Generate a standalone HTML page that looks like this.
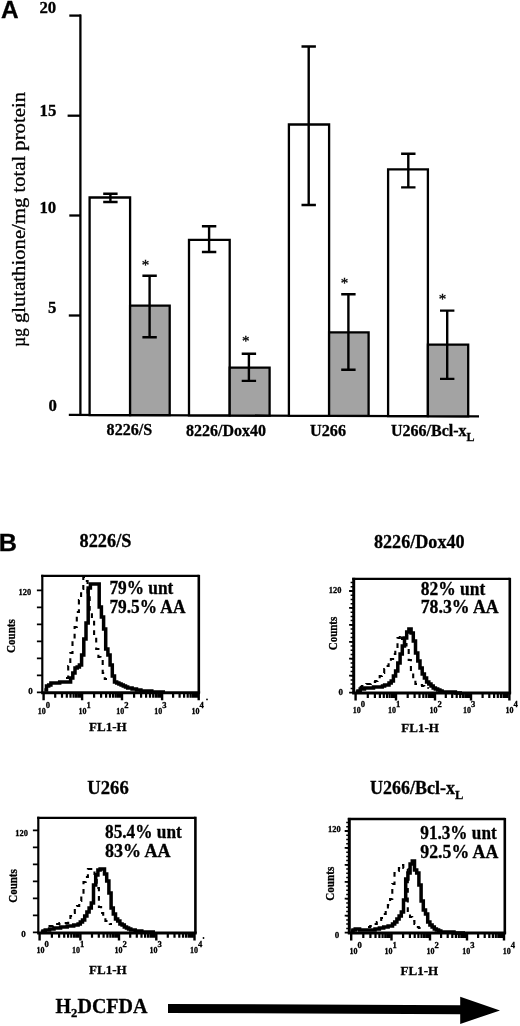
<!DOCTYPE html>
<html><head><meta charset="utf-8"><title>Figure</title>
<style>
html,body{margin:0;padding:0;background:#fff;}
svg{display:block;}
text{font-family:"Liberation Serif","DejaVu Serif",serif;font-weight:bold;fill:#000;stroke:#000;stroke-width:0.3px;}
.sans{font-family:"Liberation Sans","DejaVu Sans",sans-serif;font-weight:bold;}
.ln{stroke:#000;fill:none;}
</style></head><body>
<svg width="520" height="1026" viewBox="0 0 520 1026">
<rect width="520" height="1026" fill="#fff"/>

<text class="sans" x="0.9" y="18.1" font-size="24.4">A</text>
<g class="ln" stroke-width="2.3">
<path d="M80.4 14.5 V415.5"/>
<path d="M68.8 414.9 L479 416.3"/>
<path d="M69.3 15.6 H81"/>
<path d="M67.6 115.7 H81"/>
<path d="M69.3 215.5 H81"/>
<path d="M68.8 315.5 H81"/>
</g>
<text x="39.4" y="13.0" font-size="16.8">20</text>
<text x="39.5" y="116.0" font-size="16.8">15</text>
<text x="39.4" y="213.4" font-size="16.8">10</text>
<text x="48.1" y="313.4" font-size="16.8">5</text>
<text x="48.5" y="410.5" font-size="16.8">0</text>
<text transform="translate(24.6 346.7) rotate(-90)" font-size="18" style="font-weight:normal" stroke-width="0.4"><tspan x="0" textLength="18.4" lengthAdjust="spacingAndGlyphs">µg</tspan> <tspan x="23.7" textLength="231" lengthAdjust="spacingAndGlyphs">glutathione/mg total protein</tspan></text>
<path d="M89.6 415.0 V197.5 H130.1 V415.1 Z" fill="#fff" stroke="#000" stroke-width="2.3"/>
<path d="M130.1 415.1 V305.7 H169.7 V415.2 Z" fill="#a3a3a3" stroke="#000" stroke-width="2.3"/>
<path d="M189 415.3 V239.8 H229.7 V415.4 Z" fill="#fff" stroke="#000" stroke-width="2.3"/>
<path d="M229.7 415.4 V367.7 H269.6 V415.6 Z" fill="#a3a3a3" stroke="#000" stroke-width="2.3"/>
<path d="M288.9 415.6 V124.5 H329.1 V415.8 Z" fill="#fff" stroke="#000" stroke-width="2.3"/>
<path d="M329.1 415.8 V332.4 H368.6 V415.9 Z" fill="#a3a3a3" stroke="#000" stroke-width="2.3"/>
<path d="M388.1 416.0 V169.3 H427.9 V416.1 Z" fill="#fff" stroke="#000" stroke-width="2.3"/>
<path d="M427.9 416.1 V344.6 H468.2 V416.3 Z" fill="#a3a3a3" stroke="#000" stroke-width="2.3"/>
<path class="ln" stroke-width="2.4" d="M110.4 193.7 V202 M103.2 193.7 H117.60000000000001 M103.2 202 H117.60000000000001"/>
<path class="ln" stroke-width="2.4" d="M149.6 275.7 V337.3 M142.4 275.7 H156.79999999999998 M142.4 337.3 H156.79999999999998"/>
<path class="ln" stroke-width="2.4" d="M209.1 226.2 V252 M201.9 226.2 H216.29999999999998 M201.9 252 H216.29999999999998"/>
<path class="ln" stroke-width="2.4" d="M248.9 353.7 V380.9 M241.70000000000002 353.7 H256.1 M241.70000000000002 380.9 H256.1"/>
<path class="ln" stroke-width="2.4" d="M308.7 46.5 V205 M301.5 46.5 H315.9 M301.5 205 H315.9"/>
<path class="ln" stroke-width="2.4" d="M348.4 294.3 V369.8 M341.2 294.3 H355.59999999999997 M341.2 369.8 H355.59999999999997"/>
<path class="ln" stroke-width="2.4" d="M408.3 153.7 V187.4 M401.1 153.7 H415.5 M401.1 187.4 H415.5"/>
<path class="ln" stroke-width="2.4" d="M447.2 310.6 V378.9 M440.0 310.6 H454.4 M440.0 378.9 H454.4"/>
<text x="145.5" y="269.8" font-size="15" text-anchor="middle" style="font-weight:normal" stroke-width="0.5">*</text>
<text x="245.8" y="346.3" font-size="15" text-anchor="middle" style="font-weight:normal" stroke-width="0.5">*</text>
<text x="344.5" y="287.7" font-size="15" text-anchor="middle" style="font-weight:normal" stroke-width="0.5">*</text>
<text x="442.6" y="303.7" font-size="15" text-anchor="middle" style="font-weight:normal" stroke-width="0.5">*</text>
<text x="106.6" y="435.4" font-size="16" textLength="45.6" lengthAdjust="spacingAndGlyphs">8226/S</text>
<text x="186" y="435.7" font-size="16" textLength="80" lengthAdjust="spacingAndGlyphs">8226/Dox40</text>
<text x="310" y="436.2" font-size="16" textLength="36" lengthAdjust="spacingAndGlyphs">U266</text>
<text x="391" y="436.4" font-size="16">U266/Bcl-x<tspan font-size="12" dy="4.6">L</tspan></text>
<text class="sans" x="-1.2" y="550.6" font-size="24" textLength="18.2" lengthAdjust="spacingAndGlyphs">B</text>
<text x="79.6" y="547.4" font-size="18" textLength="51.8" lengthAdjust="spacingAndGlyphs">8226/S</text>
<text x="374" y="548.4" font-size="18" textLength="90.6" lengthAdjust="spacingAndGlyphs">8226/Dox40</text>
<text x="87.3" y="794" font-size="18" textLength="41.4" lengthAdjust="spacingAndGlyphs">U266</text>
<text x="370" y="794.2" font-size="18">U266/Bcl-x<tspan font-size="12.5" dy="5">L</tspan></text>
<path class="ln" stroke-width="2.3" d="M41.2 575.9 H198.8 "/>
<path class="ln" stroke-width="2.6" d="M198.8 574.8 V693.3"/>
<path class="ln" stroke-width="2.2" d="M42.3 574.8 V693.3"/>
<path class="ln" stroke-width="1.8" d="M36.9 590.4 H42.3 M36.9 607.4 H42.3 M36.9 624.4 H42.3 M36.9 641.3 H42.3 M36.9 658.3 H42.3 M36.9 675.3 H42.3 M36.9 692.3 H42.3 "/>
<path class="ln" stroke-width="2.2" d="M55.2 692.3 v5.4 M62.0 692.3 v5.4 M66.8 692.3 v5.4 M70.5 692.3 v5.4 M73.6 692.3 v5.4 M76.1 692.3 v5.4 M78.4 692.3 v5.4 M80.3 692.3 v5.4 M94.1 692.3 v5.4 M101.1 692.3 v5.4 M106.1 692.3 v5.4 M110.0 692.3 v5.4 M113.1 692.3 v5.4 M115.8 692.3 v5.4 M118.1 692.3 v5.4 M120.2 692.3 v5.4 M134.1 692.3 v5.4 M141.1 692.3 v5.4 M146.1 692.3 v5.4 M150.0 692.3 v5.4 M153.2 692.3 v5.4 M155.9 692.3 v5.4 M158.2 692.3 v5.4 M160.3 692.3 v5.4 M173.1 692.3 v5.4 M179.6 692.3 v5.4 M184.1 692.3 v5.4 M187.7 692.3 v5.4 M190.6 692.3 v5.4 M193.0 692.3 v5.4 M195.2 692.3 v5.4 M197.0 692.3 v5.4 "/>
<path class="ln" stroke-width="2.4" d="M43.6 692.3 v8 M82.1 692.3 v8 M122.0 692.3 v8 M162.1 692.3 v8 M198.7 692.3 v8 "/>
<path class="ln" stroke-width="3" d="M41.2 692.8 H200.1"/>
<text x="18.6" y="594.7" font-size="9" stroke-width="0.45" textLength="12.6" lengthAdjust="spacingAndGlyphs">120</text>
<text x="28.2" y="694.3" font-size="9" stroke-width="0.45">0</text>
<text transform="translate(15.3 653) rotate(-90)" font-size="11.8" textLength="33.8" lengthAdjust="spacingAndGlyphs">Counts</text>
<text font-size="8.8" stroke-width="0.45"><tspan x="37.7" y="713.5" textLength="8" lengthAdjust="spacingAndGlyphs">10</tspan><tspan x="45.7" y="707.6" font-size="8.6">0</tspan></text>
<text font-size="8.8" stroke-width="0.45"><tspan x="78.6" y="713.5" textLength="8" lengthAdjust="spacingAndGlyphs">10</tspan><tspan x="86.6" y="707.6" font-size="8.6">1</tspan></text>
<text font-size="8.8" stroke-width="0.45"><tspan x="116.2" y="713.5" textLength="8" lengthAdjust="spacingAndGlyphs">10</tspan><tspan x="124.2" y="707.6" font-size="8.6">2</tspan></text>
<text font-size="8.8" stroke-width="0.45"><tspan x="154.2" y="713.5" textLength="8" lengthAdjust="spacingAndGlyphs">10</tspan><tspan x="162.2" y="707.6" font-size="8.6">3</tspan></text>
<text font-size="8.8" stroke-width="0.45"><tspan x="191.4" y="713.5" textLength="8" lengthAdjust="spacingAndGlyphs">10</tspan><tspan x="199.4" y="707.6" font-size="8.6">4</tspan></text>
<text x="89" y="730.8" font-size="13" textLength="37.6" lengthAdjust="spacingAndGlyphs">FL1-H</text>
<text x="109.4" y="594" font-size="18" textLength="64" lengthAdjust="spacingAndGlyphs">79% unt</text>
<text x="109.4" y="612.8" font-size="18" textLength="76" lengthAdjust="spacingAndGlyphs">79.5% AA</text>
<polyline class="ln" stroke-width="2.1" stroke-dasharray="4.8 4.8" stroke-linejoin="miter" points="66.0,678.0 68.2,678.0 68.2,666.0 70.3,666.0 70.3,653.0 72.5,653.0 72.5,641.0 74.6,641.0 74.6,627.0 76.8,627.0 76.8,612.0 78.9,612.0 78.9,600.0 81.1,600.0 81.1,589.0 83.3,589.0 83.3,577.0 85.4,577.0 85.4,581.0 87.6,581.0 87.6,594.0 89.7,594.0 89.7,611.0 91.9,611.0 91.9,620.0 94.1,620.0 94.1,637.0 96.2,637.0 96.2,649.0 98.4,649.0 98.4,657.0 100.5,657.0 100.5,660.0 102.7,660.0 102.7,673.0 104.8,673.0 104.8,679.0 107.0,679.0"/>
<polyline class="ln" stroke-width="3.5" stroke-linejoin="miter" points="44.3,690.0 46.5,690.0 46.5,686.0 48.7,686.0 48.7,685.0 50.9,685.0 50.9,683.0 53.1,683.0 53.1,683.0 55.3,683.0 55.3,683.0 57.5,683.0 57.5,683.0 59.7,683.0 59.7,682.0 61.9,682.0 61.9,682.0 64.1,682.0 64.1,682.0 66.2,682.0 66.2,682.0 68.4,682.0 68.4,682.0 70.6,682.0 70.6,678.0 72.8,678.0 72.8,673.0 75.0,673.0 75.0,668.0 77.2,668.0 77.2,667.0 79.4,667.0 79.4,665.0 81.6,665.0 81.6,655.0 83.8,655.0 83.8,639.0 86.0,639.0 86.0,623.0 88.2,623.0 88.2,588.0 90.4,588.0 90.4,584.0 92.6,584.0 92.6,584.0 94.8,584.0 94.8,584.0 97.0,584.0 97.0,584.0 99.2,584.0 99.2,607.0 101.4,607.0 101.4,617.0 103.6,617.0 103.6,629.0 105.7,629.0 105.7,649.0 107.9,649.0 107.9,655.0 110.1,655.0 110.1,665.0 112.3,665.0 112.3,676.0 114.5,676.0 114.5,682.0 116.7,682.0 116.7,683.0 118.9,683.0 118.9,684.0 121.1,684.0 121.1,685.0 123.3,685.0 123.3,686.0 125.5,686.0 125.5,687.0 127.7,687.0 127.7,688.0 129.9,688.0 129.9,688.0 132.1,688.0 132.1,689.0 134.3,689.0 134.3,689.0 136.5,689.0 136.5,690.0 138.7,690.0 138.7,690.0 140.9,690.0 140.9,691.0 143.1,691.0 143.1,691.0 145.2,691.0 145.2,691.0 147.4,691.0 147.4,691.0 149.6,691.0 149.6,691.0 151.8,691.0 151.8,692.0 154.0,692.0 154.0,692.0 156.2,692.0 156.2,692.0 158.4,692.0 158.4,692.0 160.6,692.0 160.6,692.0 162.8,692.0 162.8,692.0 165.0,692.0"/>
<circle cx="207" cy="699.4" r="0.9" fill="#000"/>
<path class="ln" stroke-width="2.3" d="M352.2 578.9 H509.8 "/>
<path class="ln" stroke-width="2.6" d="M509.8 577.8 V693.6"/>
<path class="ln" stroke-width="3" d="M353.7 577.8 V693.6"/>
<path class="ln" stroke-width="1.8" d="M349.1 591.0 H353.7 M349.1 607.9 H353.7 M349.1 624.9 H353.7 M349.1 641.8 H353.7 M349.1 658.7 H353.7 M349.1 675.7 H353.7 M349.1 692.6 H353.7 "/>
<path class="ln" stroke-width="1.5" d="M350.6 582.5 H353.7 M350.6 586.8 H353.7 M350.6 591.0 H353.7 M350.6 595.2 H353.7 M350.6 599.5 H353.7 M350.6 603.7 H353.7 M350.6 607.9 H353.7 M350.6 612.2 H353.7 M350.6 616.4 H353.7 M350.6 620.6 H353.7 M350.6 624.9 H353.7 M350.6 629.1 H353.7 M350.6 633.3 H353.7 M350.6 637.6 H353.7 M350.6 641.8 H353.7 M350.6 646.0 H353.7 M350.6 650.3 H353.7 M350.6 654.5 H353.7 M350.6 658.7 H353.7 M350.6 663.0 H353.7 M350.6 667.2 H353.7 M350.6 671.4 H353.7 M350.6 675.7 H353.7 M350.6 679.9 H353.7 M350.6 684.1 H353.7 M350.6 688.4 H353.7 "/>
<path class="ln" stroke-width="2.2" d="M367.8 692.6 v5.4 M374.9 692.6 v5.4 M379.9 692.6 v5.4 M383.8 692.6 v5.4 M387.0 692.6 v5.4 M389.7 692.6 v5.4 M392.1 692.6 v5.4 M394.2 692.6 v5.4 M407.7 692.6 v5.4 M414.6 692.6 v5.4 M419.5 692.6 v5.4 M423.3 692.6 v5.4 M426.3 692.6 v5.4 M429.0 692.6 v5.4 M431.2 692.6 v5.4 M433.2 692.6 v5.4 M445.8 692.6 v5.4 M452.2 692.6 v5.4 M456.7 692.6 v5.4 M460.2 692.6 v5.4 M463.0 692.6 v5.4 M465.4 692.6 v5.4 M467.5 692.6 v5.4 M469.4 692.6 v5.4 M482.6 692.6 v5.4 M489.3 692.6 v5.4 M494.1 692.6 v5.4 M497.8 692.6 v5.4 M500.9 692.6 v5.4 M503.5 692.6 v5.4 M505.7 692.6 v5.4 M507.6 692.6 v5.4 "/>
<path class="ln" stroke-width="2.4" d="M355.6 692.6 v8 M396.0 692.6 v8 M435.0 692.6 v8 M471.0 692.6 v8 M509.4 692.6 v8 "/>
<path class="ln" stroke-width="3" d="M352.2 693.1 H511.1"/>
<text x="328.8" y="592.6" font-size="9" stroke-width="0.45" textLength="12.6" lengthAdjust="spacingAndGlyphs">120</text>
<text x="338.6" y="695" font-size="9" stroke-width="0.45">0</text>
<text transform="translate(336.5 650.3) rotate(-90)" font-size="11.8" textLength="33.6" lengthAdjust="spacingAndGlyphs">Counts</text>
<text font-size="8.8" stroke-width="0.45"><tspan x="352.8" y="713" textLength="8" lengthAdjust="spacingAndGlyphs">10</tspan><tspan x="360.8" y="707.1" font-size="8.6">0</tspan></text>
<text font-size="8.8" stroke-width="0.45"><tspan x="388.1" y="713" textLength="8" lengthAdjust="spacingAndGlyphs">10</tspan><tspan x="396.1" y="707.1" font-size="8.6">1</tspan></text>
<text font-size="8.8" stroke-width="0.45"><tspan x="429.4" y="713" textLength="8" lengthAdjust="spacingAndGlyphs">10</tspan><tspan x="437.4" y="707.1" font-size="8.6">2</tspan></text>
<text font-size="8.8" stroke-width="0.45"><tspan x="463.1" y="713" textLength="8" lengthAdjust="spacingAndGlyphs">10</tspan><tspan x="471.1" y="707.1" font-size="8.6">3</tspan></text>
<text font-size="8.8" stroke-width="0.45"><tspan x="505.4" y="713" textLength="8" lengthAdjust="spacingAndGlyphs">10</tspan><tspan x="513.4" y="707.1" font-size="8.6">4</tspan></text>
<text x="401.3" y="731.6" font-size="13" textLength="37.6" lengthAdjust="spacingAndGlyphs">FL1-H</text>
<text x="420.7" y="595.3" font-size="18" textLength="64.6" lengthAdjust="spacingAndGlyphs">82% unt</text>
<text x="420.7" y="613" font-size="18" textLength="78" lengthAdjust="spacingAndGlyphs">78.3% AA</text>
<polyline class="ln" stroke-width="2.1" stroke-dasharray="4.8 4.8" stroke-linejoin="miter" points="359.6,687.0 361.8,687.0 361.8,686.0 364.1,686.0 364.1,685.0 366.3,685.0 366.3,684.0 368.5,684.0 368.5,684.0 370.8,684.0 370.8,683.0 373.0,683.0 373.0,682.0 375.2,682.0 375.2,681.0 377.5,681.0 377.5,680.0 379.7,680.0 379.7,676.0 381.9,676.0 381.9,673.0 384.2,673.0 384.2,669.0 386.4,669.0 386.4,666.0 388.6,666.0 388.6,662.0 390.9,662.0 390.9,659.0 393.1,659.0 393.1,654.0 395.3,654.0 395.3,649.0 397.5,649.0 397.5,638.0 399.8,638.0 399.8,635.0 402.0,635.0 402.0,639.0 404.2,639.0 404.2,644.0 406.5,644.0 406.5,648.0 408.7,648.0 408.7,660.0 410.9,660.0 410.9,673.0 413.2,673.0 413.2,679.0 415.4,679.0 415.4,684.0 417.6,684.0 417.6,685.0 419.9,685.0 419.9,685.0 422.1,685.0 422.1,686.0 424.3,686.0 424.3,687.0 426.6,687.0 426.6,688.0 428.8,688.0"/>
<polyline class="ln" stroke-width="3.5" stroke-linejoin="miter" points="355.8,692.0 358.0,692.0 358.0,691.0 360.2,691.0 360.2,689.0 362.4,689.0 362.4,689.0 364.6,689.0 364.7,688.0 366.9,688.0 366.9,688.0 369.1,688.0 369.1,688.0 371.3,688.0 371.3,688.0 373.5,688.0 373.5,687.0 375.7,687.0 375.7,687.0 377.9,687.0 377.9,687.0 380.1,687.0 380.1,687.0 382.3,687.0 382.4,686.0 384.6,686.0 384.6,685.0 386.8,685.0 386.8,685.0 389.0,685.0 389.0,683.0 391.2,683.0 391.2,681.0 393.4,681.0 393.4,676.0 395.6,676.0 395.6,671.0 397.8,671.0 397.8,663.0 400.1,663.0 400.1,654.0 402.3,654.0 402.3,646.0 404.5,646.0 404.5,638.0 406.7,638.0 406.7,632.0 408.9,632.0 408.9,629.0 411.1,629.0 411.1,633.0 413.3,633.0 413.3,641.0 415.5,641.0 415.5,653.0 417.8,653.0 417.8,661.0 420.0,661.0 420.0,668.0 422.2,668.0 422.2,674.0 424.4,674.0 424.4,678.0 426.6,678.0 426.6,682.0 428.8,682.0 428.8,684.0 431.0,684.0 431.0,686.0 433.2,686.0 433.2,688.0 435.4,688.0 435.4,689.0 437.7,689.0 437.7,690.0 439.9,690.0 439.9,691.0 442.1,691.0 442.1,692.0 444.3,692.0 444.3,692.0 446.5,692.0 446.5,692.0 448.7,692.0 448.7,692.0 450.9,692.0 450.9,692.0 453.1,692.0 453.1,692.0 455.4,692.0 455.4,693.0 457.6,693.0 457.6,693.0 459.8,693.0 459.8,693.0 462.0,693.0"/>
<path class="ln" stroke-width="2.3" d="M37.2 817.8 H195.4 "/>
<path class="ln" stroke-width="2.6" d="M195.4 816.7 V933.4"/>
<path class="ln" stroke-width="2.2" d="M38.3 816.7 V933.4"/>
<path class="ln" stroke-width="1.8" d="M32.9 830.4 H38.3 M32.9 847.4 H38.3 M32.9 864.4 H38.3 M32.9 881.4 H38.3 M32.9 898.4 H38.3 M32.9 915.4 H38.3 M32.9 932.4 H38.3 "/>
<path class="ln" stroke-width="2.2" d="M51.9 932.4 v5.4 M59.1 932.4 v5.4 M64.2 932.4 v5.4 M68.1 932.4 v5.4 M71.3 932.4 v5.4 M74.1 932.4 v5.4 M76.4 932.4 v5.4 M78.5 932.4 v5.4 M92.0 932.4 v5.4 M98.8 932.4 v5.4 M103.6 932.4 v5.4 M107.4 932.4 v5.4 M110.4 932.4 v5.4 M113.0 932.4 v5.4 M115.3 932.4 v5.4 M117.2 932.4 v5.4 M130.2 932.4 v5.4 M136.8 932.4 v5.4 M141.5 932.4 v5.4 M145.1 932.4 v5.4 M148.0 932.4 v5.4 M150.5 932.4 v5.4 M152.7 932.4 v5.4 M154.6 932.4 v5.4 M167.8 932.4 v5.4 M174.5 932.4 v5.4 M179.3 932.4 v5.4 M183.0 932.4 v5.4 M186.0 932.4 v5.4 M188.6 932.4 v5.4 M190.8 932.4 v5.4 M192.8 932.4 v5.4 "/>
<path class="ln" stroke-width="2.4" d="M39.6 932.4 v8 M80.4 932.4 v8 M119.0 932.4 v8 M156.3 932.4 v8 M194.5 932.4 v8 "/>
<path class="ln" stroke-width="3" d="M37.2 932.9 H196.7"/>
<text x="15.3" y="835.7" font-size="9" stroke-width="0.45" textLength="12.6" lengthAdjust="spacingAndGlyphs">120</text>
<text x="21.2" y="936.6" font-size="9" stroke-width="0.45">0</text>
<text transform="translate(17.2 902.8) rotate(-90)" font-size="11.8" textLength="33.6" lengthAdjust="spacingAndGlyphs">Counts</text>
<text font-size="8.8" stroke-width="0.45"><tspan x="36.5" y="953.2" textLength="8" lengthAdjust="spacingAndGlyphs">10</tspan><tspan x="44.5" y="947.3" font-size="8.6">0</tspan></text>
<text font-size="8.8" stroke-width="0.45"><tspan x="72.1" y="953.2" textLength="8" lengthAdjust="spacingAndGlyphs">10</tspan><tspan x="80.1" y="947.3" font-size="8.6">1</tspan></text>
<text font-size="8.8" stroke-width="0.45"><tspan x="114.6" y="953.2" textLength="8" lengthAdjust="spacingAndGlyphs">10</tspan><tspan x="122.6" y="947.3" font-size="8.6">2</tspan></text>
<text font-size="8.8" stroke-width="0.45"><tspan x="149.5" y="953.2" textLength="8" lengthAdjust="spacingAndGlyphs">10</tspan><tspan x="157.5" y="947.3" font-size="8.6">3</tspan></text>
<text font-size="8.8" stroke-width="0.45"><tspan x="190" y="953.2" textLength="8" lengthAdjust="spacingAndGlyphs">10</tspan><tspan x="198.0" y="947.3" font-size="8.6">4</tspan></text>
<text x="89" y="974.2" font-size="13" textLength="37.6" lengthAdjust="spacingAndGlyphs">FL1-H</text>
<text x="105" y="838.4" font-size="18" textLength="76.8" lengthAdjust="spacingAndGlyphs">85.4% unt</text>
<text x="105" y="856.9" font-size="18" textLength="65.6" lengthAdjust="spacingAndGlyphs">83% AA</text>
<polyline class="ln" stroke-width="2.1" stroke-dasharray="4.8 4.8" stroke-linejoin="miter" points="48.5,926.0 50.7,926.0 50.7,926.0 52.9,926.0 52.9,925.0 55.1,925.0 55.1,924.0 57.3,924.0 57.3,924.0 59.4,924.0 59.4,923.0 61.6,923.0 61.6,923.0 63.8,923.0 63.8,923.0 66.0,923.0 66.0,923.0 68.2,923.0 68.2,921.0 70.4,921.0 70.4,916.0 72.6,916.0 72.6,913.0 74.8,913.0 74.8,909.0 77.0,909.0 77.0,906.0 79.2,906.0 79.2,901.0 81.3,901.0 81.3,894.0 83.5,894.0 83.5,882.0 85.7,882.0 85.7,877.0 87.9,877.0 87.9,869.0 90.1,869.0 90.1,869.0 92.3,869.0 92.3,869.0 94.5,869.0 94.5,874.0 96.7,874.0 96.7,888.0 98.9,888.0 98.9,907.0 101.1,907.0 101.1,913.0 103.2,913.0 103.2,918.0 105.4,918.0 105.4,921.0 107.6,921.0 107.6,923.0 109.8,923.0 109.8,924.0 112.0,924.0"/>
<polyline class="ln" stroke-width="3.5" stroke-linejoin="miter" points="40.8,932.0 43.0,932.0 43.0,931.0 45.2,931.0 45.2,930.0 47.4,930.0 47.4,930.0 49.6,930.0 49.6,929.0 51.8,929.0 51.8,929.0 54.0,929.0 54.0,928.0 56.2,928.0 56.2,928.0 58.4,928.0 58.4,928.0 60.6,928.0 60.6,927.0 62.8,927.0 62.8,927.0 65.0,927.0 65.0,927.0 67.2,927.0 67.2,926.0 69.4,926.0 69.3,926.0 71.5,926.0 71.5,926.0 73.7,926.0 73.7,925.0 75.9,925.0 75.9,925.0 78.1,925.0 78.1,924.0 80.3,924.0 80.3,922.0 82.5,922.0 82.5,920.0 84.7,920.0 84.7,916.0 86.9,916.0 86.9,912.0 89.1,912.0 89.1,908.0 91.3,908.0 91.3,903.0 93.5,903.0 93.5,885.0 95.7,885.0 95.7,875.0 97.9,875.0 97.9,870.0 100.1,870.0 100.1,869.0 102.3,869.0 102.3,869.0 104.5,869.0 104.5,874.0 106.7,874.0 106.7,881.0 108.9,881.0 108.9,893.0 111.1,893.0 111.1,908.0 113.3,908.0 113.3,914.0 115.5,914.0 115.5,919.0 117.7,919.0 117.7,921.0 119.9,921.0 119.9,924.0 122.1,924.0 122.1,925.0 124.3,925.0 124.3,927.0 126.5,927.0 126.5,928.0 128.6,928.0 128.6,929.0 130.8,929.0 130.8,930.0 133.0,930.0 133.0,930.0 135.2,930.0 135.2,931.0 137.4,931.0 137.4,931.0 139.6,931.0 139.6,931.0 141.8,931.0 141.8,932.0 144.0,932.0 144.0,932.0 146.2,932.0 146.2,932.0 148.4,932.0 148.4,932.0 150.6,932.0 150.6,932.0 152.8,932.0 152.8,932.0 155.0,932.0"/>
<circle cx="203.5" cy="938" r="0.9" fill="#000"/>
<path class="ln" stroke-width="2.3" d="M347.8 819 H504.8 "/>
<path class="ln" stroke-width="2.6" d="M504.8 817.9 V933.6"/>
<path class="ln" stroke-width="3" d="M349.3 817.9 V933.6"/>
<path class="ln" stroke-width="1.8" d="M344.7 831.0 H349.3 M344.7 847.9 H349.3 M344.7 864.9 H349.3 M344.7 881.8 H349.3 M344.7 898.7 H349.3 M344.7 915.7 H349.3 M344.7 932.6 H349.3 "/>
<path class="ln" stroke-width="1.5" d="M346.2 822.5 H349.3 M346.2 826.8 H349.3 M346.2 831.0 H349.3 M346.2 835.2 H349.3 M346.2 839.5 H349.3 M346.2 843.7 H349.3 M346.2 847.9 H349.3 M346.2 852.2 H349.3 M346.2 856.4 H349.3 M346.2 860.6 H349.3 M346.2 864.9 H349.3 M346.2 869.1 H349.3 M346.2 873.3 H349.3 M346.2 877.6 H349.3 M346.2 881.8 H349.3 M346.2 886.0 H349.3 M346.2 890.3 H349.3 M346.2 894.5 H349.3 M346.2 898.7 H349.3 M346.2 903.0 H349.3 M346.2 907.2 H349.3 M346.2 911.4 H349.3 M346.2 915.7 H349.3 M346.2 919.9 H349.3 M346.2 924.1 H349.3 M346.2 928.4 H349.3 "/>
<path class="ln" stroke-width="2.2" d="M363.3 932.6 v5.4 M370.4 932.6 v5.4 M375.5 932.6 v5.4 M379.4 932.6 v5.4 M382.6 932.6 v5.4 M385.3 932.6 v5.4 M387.6 932.6 v5.4 M389.7 932.6 v5.4 M403.1 932.6 v5.4 M409.9 932.6 v5.4 M414.7 932.6 v5.4 M418.4 932.6 v5.4 M421.5 932.6 v5.4 M424.0 932.6 v5.4 M426.3 932.6 v5.4 M428.2 932.6 v5.4 M441.1 932.6 v5.4 M447.7 932.6 v5.4 M452.3 932.6 v5.4 M455.9 932.6 v5.4 M458.8 932.6 v5.4 M461.3 932.6 v5.4 M463.4 932.6 v5.4 M465.3 932.6 v5.4 M478.1 932.6 v5.4 M484.7 932.6 v5.4 M489.3 932.6 v5.4 M492.9 932.6 v5.4 M495.8 932.6 v5.4 M498.3 932.6 v5.4 M500.4 932.6 v5.4 M502.3 932.6 v5.4 "/>
<path class="ln" stroke-width="2.4" d="M351.2 932.6 v8 M391.5 932.6 v8 M430.0 932.6 v8 M467.0 932.6 v8 M504.0 932.6 v8 "/>
<path class="ln" stroke-width="3" d="M347.8 933.1 H506.1"/>
<text x="328.1" y="832.4" font-size="9" stroke-width="0.45" textLength="12.6" lengthAdjust="spacingAndGlyphs">120</text>
<text x="334.7" y="937.6" font-size="9" stroke-width="0.45">0</text>
<text transform="translate(334.2 900.8) rotate(-90)" font-size="11.8" textLength="34.2" lengthAdjust="spacingAndGlyphs">Counts</text>
<text font-size="8.8" stroke-width="0.45"><tspan x="349.4" y="953.5" textLength="8" lengthAdjust="spacingAndGlyphs">10</tspan><tspan x="357.4" y="947.6" font-size="8.6">0</tspan></text>
<text font-size="8.8" stroke-width="0.45"><tspan x="384.4" y="953.5" textLength="8" lengthAdjust="spacingAndGlyphs">10</tspan><tspan x="392.4" y="947.6" font-size="8.6">1</tspan></text>
<text font-size="8.8" stroke-width="0.45"><tspan x="426.5" y="953.5" textLength="8" lengthAdjust="spacingAndGlyphs">10</tspan><tspan x="434.5" y="947.6" font-size="8.6">2</tspan></text>
<text font-size="8.8" stroke-width="0.45"><tspan x="462.2" y="953.5" textLength="8" lengthAdjust="spacingAndGlyphs">10</tspan><tspan x="470.2" y="947.6" font-size="8.6">3</tspan></text>
<text font-size="8.8" stroke-width="0.45"><tspan x="502.8" y="953.5" textLength="8" lengthAdjust="spacingAndGlyphs">10</tspan><tspan x="510.8" y="947.6" font-size="8.6">4</tspan></text>
<text x="400.6" y="975.2" font-size="13" textLength="37.6" lengthAdjust="spacingAndGlyphs">FL1-H</text>
<text x="420.3" y="839" font-size="18" textLength="76.4" lengthAdjust="spacingAndGlyphs">91.3% unt</text>
<text x="420.3" y="858" font-size="18" textLength="78" lengthAdjust="spacingAndGlyphs">92.5% AA</text>
<polyline class="ln" stroke-width="2.1" stroke-dasharray="4.8 4.8" stroke-linejoin="miter" points="368.0,927.0 370.2,927.0 370.2,926.0 372.4,926.0 372.4,925.0 374.6,925.0 374.6,924.0 376.8,924.0 376.8,922.0 379.0,922.0 379.0,920.0 381.2,920.0 381.2,918.0 383.5,918.0 383.5,914.0 385.7,914.0 385.7,910.0 387.9,910.0 387.9,905.0 390.1,905.0 390.1,899.0 392.3,899.0 392.3,884.0 394.5,884.0 394.5,873.0 396.7,873.0 396.7,871.0 398.9,871.0 398.9,868.0 401.1,868.0 401.1,865.0 403.3,865.0 403.3,868.0 405.5,868.0 405.5,869.0 407.8,869.0 407.8,911.0 410.0,911.0 410.0,917.0 412.2,917.0 412.2,921.0 414.4,921.0 414.4,924.0 416.6,924.0 416.6,927.0 418.8,927.0 418.8,928.0 421.0,928.0"/>
<polyline class="ln" stroke-width="3.5" stroke-linejoin="miter" points="350.8,931.0 353.0,931.0 353.0,930.0 355.2,930.0 355.2,929.0 357.4,929.0 357.4,929.0 359.6,929.0 359.6,930.0 361.8,930.0 361.8,930.0 364.0,930.0 364.0,930.0 366.2,930.0 366.2,930.0 368.4,930.0 368.4,930.0 370.6,930.0 370.6,930.0 372.8,930.0 372.8,930.0 375.0,930.0 375.0,929.0 377.2,929.0 377.2,929.0 379.4,929.0 379.4,928.0 381.5,928.0 381.5,928.0 383.7,928.0 383.7,927.0 385.9,927.0 385.9,927.0 388.1,927.0 388.1,926.0 390.3,926.0 390.3,926.0 392.5,926.0 392.5,924.0 394.7,924.0 394.7,922.0 396.9,922.0 396.9,919.0 399.1,919.0 399.1,916.0 401.3,916.0 401.3,912.0 403.5,912.0 403.5,900.0 405.7,900.0 405.7,879.0 407.9,879.0 407.9,873.0 410.1,873.0 410.1,864.0 412.3,864.0 412.3,861.0 414.5,861.0 414.5,870.0 416.7,870.0 416.7,873.0 418.9,873.0 418.9,885.0 421.1,885.0 421.1,901.0 423.3,901.0 423.3,910.0 425.5,910.0 425.5,914.0 427.7,914.0 427.7,922.0 429.9,922.0 429.9,925.0 432.1,925.0 432.1,927.0 434.3,927.0 434.3,929.0 436.4,929.0 436.4,930.0 438.6,930.0 438.6,931.0 440.8,931.0 440.8,932.0 443.0,932.0 443.0,932.0 445.2,932.0 445.2,932.0 447.4,932.0 447.4,932.0 449.6,932.0 449.6,932.0 451.8,932.0 451.8,932.0 454.0,932.0 454.0,933.0 456.2,933.0 456.2,933.0 458.4,933.0 458.4,933.0 460.6,933.0 460.6,933.0 462.8,933.0 462.8,933.0 465.0,933.0"/>
<text x="55.5" y="1012.9" font-size="20.5" textLength="92" lengthAdjust="spacingAndGlyphs">H<tspan font-size="13" dy="4">2</tspan><tspan dy="-4">DCFDA</tspan></text>
<polygon points="168,1004 460.2,1005.2 460.2,996.8 500,1010.4 460.2,1024 460.2,1014.2 168,1013" fill="#000"/>
</svg></body></html>
